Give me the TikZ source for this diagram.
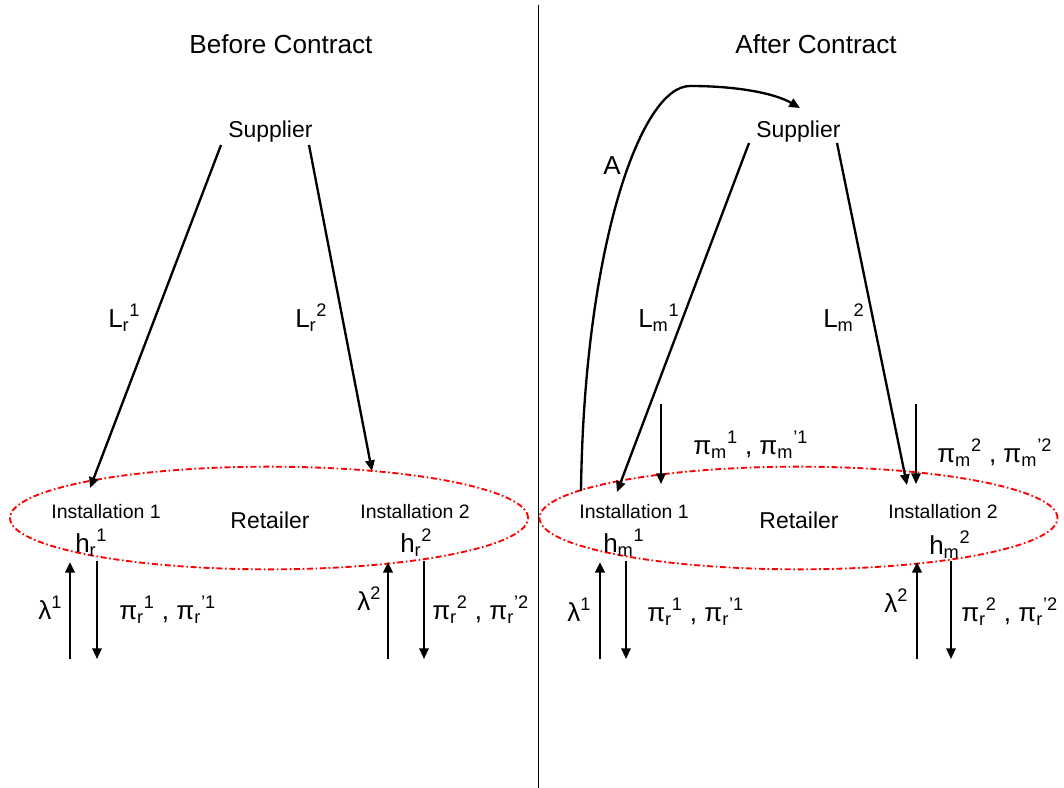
\documentclass[tikz,border=0pt]{standalone}
\usepackage{fontspec}
\setmainfont{Liberation Sans}
\usetikzlibrary{arrows.meta,shapes.geometric}
\newcommand{\sbp}[2]{\textsubscript{#1}\textsuperscript{#2}}
\begin{document}
\begin{tikzpicture}[x=0.75pt,y=-0.75pt,inner sep=0pt,
  title/.style={font=\fontsize{19.6}{22}\selectfont},
  big/.style={font=\fontsize{17.2}{20}\selectfont},
  inst/.style={font=\fontsize{14.6}{17}\selectfont},
  lab/.style={font=\fontsize{19.5}{22}\selectfont,anchor=base west},
  tip/.style={-{Triangle[length=8pt,width=7pt]}},
  flow/.style={tip,line width=1.75pt},
  upflow/.style={tip,line width=2pt},
  thinflow/.style={tip,line width=1.45pt},
  retail/.style={ellipse,draw=red,line width=1.4pt,dash pattern=on 4.5pt off 2pt on 1.2pt off 2pt,
    minimum width=388.5pt,minimum height=77pt}]
\useasboundingbox (0,0) rectangle (1064,788);
% divider
\coordinate (divtop) at (538,5);
\coordinate (divbot) at (538,788);
\draw[line width=0.6pt] (divtop) -- (divbot);

% ---------------- Before Contract ----------------
\node[title] (t1) at (281,44) {Before Contract};
\node[big,anchor=base west] (sup1) at (228,138) {Supplier};
\node[retail] (ret1) at (269,518) {};
\node[inst] (i11) at (106,512) {Installation 1};
\node[big] (r1) at (270,520) {Retailer};
\node[inst] (i12) at (415,512) {Installation 2};
\node[lab] (h11) at (75,552) {h\sbp{r}{1}};
\node[lab] (h12) at (400,552) {h\sbp{r}{2}};

\coordinate (a1s) at (221,145);
\coordinate (a1e) at (90,488);
\coordinate (a2s) at (309,145);
\coordinate (a2e) at (372,471);
\draw[flow] (a1s) -- (a1e);
\draw[flow] (a2s) -- (a2e);
\node[lab] (l11) at (108,327) {L\sbp{r}{1}};
\node[lab] (l12) at (295,327) {L\sbp{r}{2}};

\coordinate (u1b) at (70,659);
\coordinate (u1t) at (70,562);
\coordinate (d1t) at (97,561);
\coordinate (d1b) at (97,659);
\draw[upflow] (u1b) -- (u1t);
\draw[thinflow] (d1t) -- (d1b);
\node[lab] (lam11) at (38,619) {λ\textsuperscript{1}};
\node[lab] (pi11) at (119,619) {π\sbp{r}{1} , π\sbp{r}{’1}};

\coordinate (u2b) at (388,659);
\coordinate (u2t) at (388,562);
\coordinate (d2t) at (424,561);
\coordinate (d2b) at (424,659);
\draw[upflow] (u2b) -- (u2t);
\draw[thinflow] (d2t) -- (d2b);
\node[lab] (lam12) at (357,610) {λ\textsuperscript{2}};
\node[lab] (pi12) at (432,619) {π\sbp{r}{2} , π\sbp{r}{’2}};

% ---------------- After Contract ----------------
\node[title] (t2) at (816,44) {After Contract};
\node[big,anchor=base west] (sup2) at (756,138) {Supplier};
\node[retail] (ret2) at (798.5,518) {};
\node[inst] (i21) at (634,512) {Installation 1};
\node[big] (r2) at (799,520) {Retailer};
\node[inst] (i22) at (943,512) {Installation 2};
\node[lab] (h21) at (603,552) {h\sbp{m}{1}};
\node[lab] (h22) at (929,554) {h\sbp{m}{2}};

\coordinate (b1s) at (749,143);
\coordinate (b1e) at (617,492);
\coordinate (b2s) at (837,143);
\coordinate (b2e) at (907,485);
\draw[flow] (b1s) -- (b1e);
\draw[flow] (b2s) -- (b2e);
\node[lab] (l21) at (638,327) {L\sbp{m}{1}};
\node[lab] (l22) at (823,327) {L\sbp{m}{2}};

% A contract curve
\coordinate (cs) at (581,491);
\coordinate (ctop) at (690,86);
\coordinate (ce) at (800,108);
\draw[flow] (cs) .. controls (584,250) and (640,86) .. (ctop)
  .. controls (740,86) and (776,94) .. (ce);
\node[lab] (A) at (603,175) {A};

% penalties from supplier side
\coordinate (m1t) at (661,404);
\coordinate (m1b) at (661,484);
\coordinate (m2t) at (916,404);
\coordinate (m2b) at (916,484);
\draw[thinflow] (m1t) -- (m1b);
\draw[thinflow] (m2t) -- (m2b);
\node[lab] (pm1) at (693,454) {π\sbp{m}{1} , π\sbp{m}{’1}};
\node[lab] (pm2) at (937,462) {π\sbp{m}{2} , π\sbp{m}{’2}};

\coordinate (v1b) at (600,659);
\coordinate (v1t) at (600,562);
\coordinate (e1t) at (626,561);
\coordinate (e1b) at (626,659);
\draw[upflow] (v1b) -- (v1t);
\draw[thinflow] (e1t) -- (e1b);
\node[lab] (lam21) at (567,621) {λ\textsuperscript{1}};
\node[lab] (pi21) at (647,621) {π\sbp{r}{1} , π\sbp{r}{’1}};

\coordinate (v2b) at (917,659);
\coordinate (v2t) at (917,562);
\coordinate (e2t) at (951,561);
\coordinate (e2b) at (951,659);
\draw[upflow] (v2b) -- (v2t);
\draw[thinflow] (e2t) -- (e2b);
\node[lab] (lam22) at (884,612) {λ\textsuperscript{2}};
\node[lab] (pi22) at (961,621) {π\sbp{r}{2} , π\sbp{r}{’2}};
\end{tikzpicture}
\end{document}
